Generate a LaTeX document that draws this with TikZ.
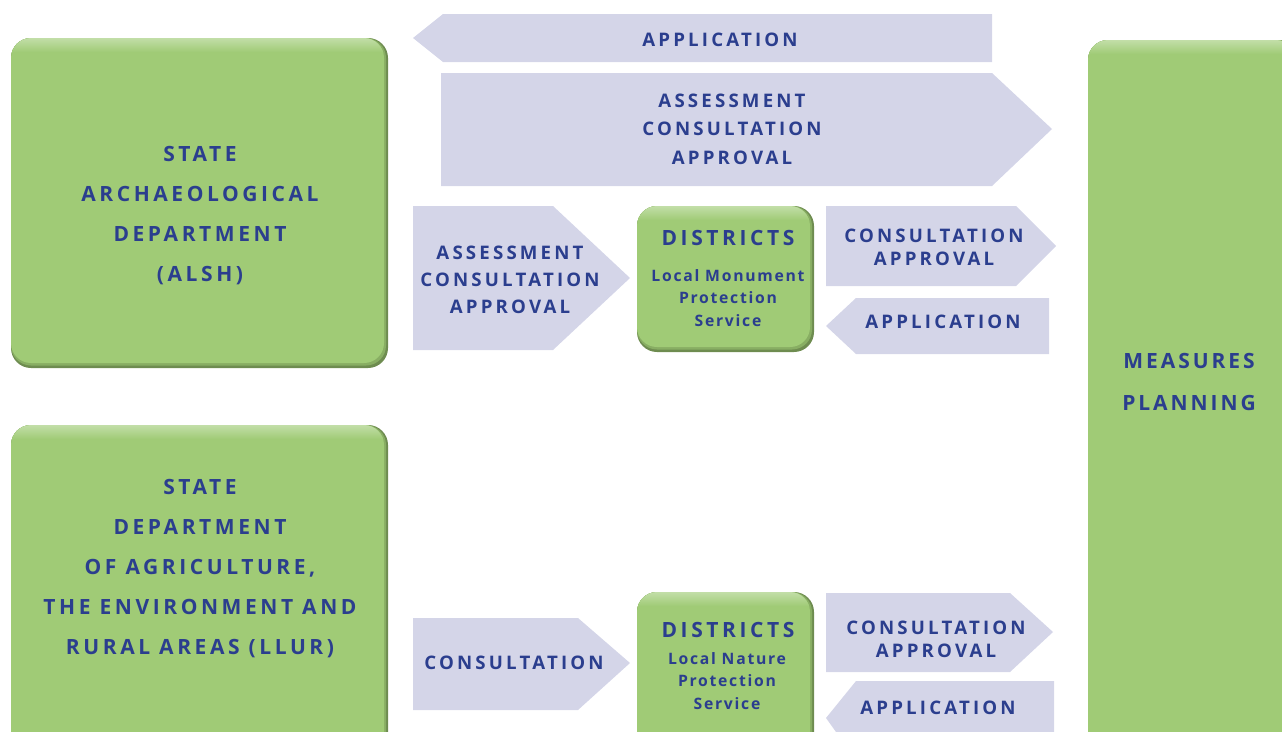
\documentclass[tikz,border=0pt]{standalone}
\usepackage{fontspec}
\setmainfont{Open Sans}
\newfontfamily\bigtrack[LetterSpace=17]{Open Sans}
\newfontfamily\meastrack[LetterSpace=14]{Open Sans}
\newfontfamily\midtrack[LetterSpace=17]{Open Sans}
\newfontfamily\disttrack[LetterSpace=17]{Open Sans}
\newfontfamily\smalltrack[LetterSpace=11]{Open Sans}
\definecolor{grn}{HTML}{A0CB76}
\definecolor{grnm}{HTML}{88AE63}
\definecolor{grnd}{HTML}{6E8C50}
\definecolor{grnl}{HTML}{C2DEA8}
\definecolor{arr}{HTML}{D4D5E8}
\definecolor{txt}{HTML}{2B3E8E}
\newcommand\gbox[4]{%
  \fill[grnd,rounded corners=15pt] (#1,#2) rectangle (#3,#4);
  \fill[grnm,rounded corners=15pt] (#1,#2) rectangle (#3-2,#4-2.5);
  \begin{scope}
    \clip[rounded corners=15pt] (#1,#2) rectangle (#3-4,#4-5);
    \fill[grn] (#1,#2) rectangle (#3,#4);
    \shade[top color=grnl,bottom color=grn] (#1,#2) rectangle (#3,#2+14);
  \end{scope}}
\begin{document}
\begin{tikzpicture}[x=0.75pt,y=-0.75pt,
  arrowshape/.style={fill=arr},
  bigtxt/.style={text=txt,font=\bigtrack\bfseries\fontsize{15.75}{30}\selectfont,align=center,inner sep=0pt},
  meastxt/.style={text=txt,font=\meastrack\bfseries\fontsize{15.75}{31.5}\selectfont,align=center,inner sep=0pt},
  arrtxt/.style={text=txt,font=\midtrack\bfseries\fontsize{14}{21.4}\selectfont,align=center,inner sep=0pt},
  arrtxtb/.style={text=txt,font=\midtrack\bfseries\fontsize{14}{20.3}\selectfont,align=center,inner sep=0pt},
  arrtxtc/.style={text=txt,font=\midtrack\bfseries\fontsize{14}{17.3}\selectfont,align=center,inner sep=0pt},
  disttxt/.style={text=txt,font=\disttrack\bfseries\fontsize{15.75}{18}\selectfont,align=center,inner sep=0pt},
  subtxt/.style={text=txt,font=\smalltrack\bfseries\fontsize{11.8}{17}\selectfont,align=center,inner sep=0pt}]
\clip (0,0) rectangle (1282,732);

% arrows
\fill[arrowshape] (413,38) -- (443,14) -- (992,14) -- (992,62) -- (443,62) -- cycle;
\fill[arrowshape] (441,73) -- (992,73) -- (1052,129) -- (992,186) -- (441,186) -- cycle;
\fill[arrowshape] (413,206) -- (553,206) -- (630,278) -- (553,350) -- (413,350) -- cycle;
\fill[arrowshape] (826,206) -- (1016,206) -- (1056,246) -- (1016,286) -- (826,286) -- cycle;
\fill[arrowshape] (826,326) -- (856,298) -- (1049,298) -- (1049,354) -- (856,354) -- cycle;
\fill[arrowshape] (413,618) -- (578,618) -- (630,663) -- (578,710) -- (413,710) -- cycle;
\fill[arrowshape] (826,593) -- (1010,593) -- (1053,632) -- (1010,672) -- (826,672) -- cycle;
\fill[arrowshape] (826,718) -- (856,681) -- (1054,681) -- (1054,760) -- (856,760) -- cycle;

% green boxes
\gbox{11}{38}{388}{368}
\gbox{11}{425}{388}{770}
\gbox{1088}{40}{1300}{770}
\gbox{637}{206}{814}{352}
\gbox{637}{592}{814}{770}

% texts
\node[bigtxt] (alsh) at (200,216) {STATE\\ARCHAEOLOGICAL\\DEPARTMENT\\(ALSH)};
\node[bigtxt] (llur) at (200,569) {STATE\\DEPARTMENT\\OF AGRICULTURE,\\THE ENVIRONMENT AND\\RURAL AREAS (LLUR)};
\node[meastxt] (meas) at (1189,382) {MEASURES\\PLANNING};
\node[arrtxt] (app1) at (720,40) {APPLICATION};
\node[arrtxt] (aca1) at (732,129) {ASSESSMENT\\CONSULTATION\\APPROVAL};
\node[arrtxtb] (aca2) at (510,280) {ASSESSMENT\\CONSULTATION\\APPROVAL};
\node[disttxt] (dist1) at (728,238) {DISTRICTS};
\node[subtxt] (lmps) at (728,298) {Local Monument\\Protection\\Service};
\node[arrtxtc] (ca1) at (934,247) {CONSULTATION\\APPROVAL};
\node[arrtxt] (app2) at (943,322) {APPLICATION};
\node[arrtxt] (cons) at (514,663) {CONSULTATION};
\node[disttxt] (dist2) at (728,630) {DISTRICTS};
\node[subtxt] (lnps) at (727,681) {Local Nature\\Protection\\Service};
\node[arrtxtc] (ca2) at (936,639) {CONSULTATION\\APPROVAL};
\node[arrtxt] (app3) at (938,708) {APPLICATION};
\end{tikzpicture}
\end{document}
